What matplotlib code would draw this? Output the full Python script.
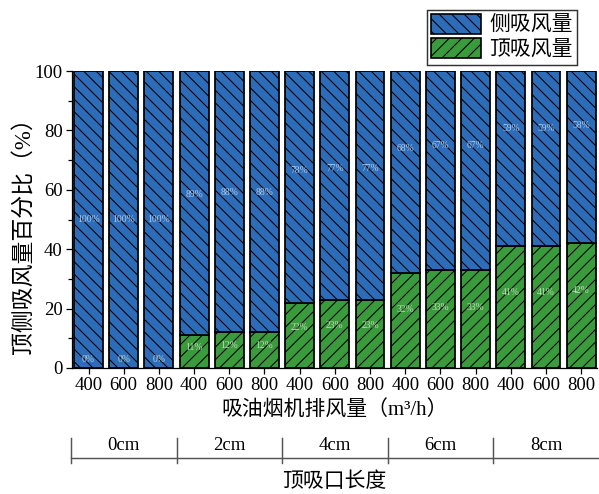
import numpy as np
import matplotlib
matplotlib.use('Agg')
import matplotlib.pyplot as plt
from matplotlib.patches import Patch
import matplotlib.transforms as mtransforms

plt.rcParams['font.family'] = ['Liberation Serif', 'Noto Sans CJK SC']
plt.rcParams['hatch.linewidth'] = 0.5
plt.rcParams['axes.unicode_minus'] = False

# data
flows = ['400', '600', '800'] * 5
groups = ['0cm', '2cm', '4cm', '6cm', '8cm']
top_share = [0, 0, 0, 11, 12, 12, 22, 23, 23, 32, 33, 33, 41, 41, 42]       # 顶吸风量 %
side_share = [100, 100, 100, 89, 88, 88, 78, 77, 77, 68, 67, 67, 59, 59, 58]  # 侧吸风量 %

blue = '#2c6cb9'
green = '#3a9b3c'
hatch_side = '\\' * 4
hatch_top = '/' * 4

fig = plt.figure(figsize=(599 / 150, 494 / 150), dpi=150)
ax = fig.add_axes([72 / 599, 1 - 368 / 494, (597 - 72) / 599, (368 - 71) / 494])

x = np.arange(len(flows))
top = np.array(top_share)
side = np.array(side_share)

ax.bar(x, top, width=0.82, color=green, edgecolor='black', linewidth=0.85, hatch=hatch_top)
ax.bar(x, side, width=0.82, bottom=top, color=blue, edgecolor='black', linewidth=0.85,
       hatch=hatch_side)

# value labels inside the bars
for i in range(len(x)):
    ax.text(x[i], 50 + 0.75 * top[i], f'{side[i]}%', ha='center', va='center',
            fontsize=4.6, color='#d5e2f2', alpha=0.8)
    ax.text(x[i], max(3, 0.62 * top[i]), f'{top[i]}%', ha='center', va='center',
            fontsize=4.6, color='#e0ecd8', alpha=0.8)

ax.set_xlim(-0.47, 14.45)
ax.set_ylim(0, 100)
ax.set_yticks(np.arange(0, 101, 20))
ax.set_yticks(np.arange(0, 101, 10), minor=True)
ax.set_xticks(x)
ax.set_xticklabels(flows)
ax.tick_params(axis='both', direction='out', labelsize=9, length=3, width=0.6, pad=1.5)
ax.tick_params(axis='y', which='minor', length=2, width=0.6)
ax.spines['top'].set_visible(False)
ax.spines['right'].set_visible(False)
ax.spines['left'].set_linewidth(0.6)
ax.spines['bottom'].set_linewidth(0.6)

ax.set_ylabel('顶侧吸风量百分比（%）', fontsize=11)
ax.yaxis.set_label_coords(-0.07, 0.465)
ax.set_xlabel('吸油烟机排风量（m³/h）', fontsize=10, labelpad=3)

# group axis below
trans = mtransforms.blended_transform_factory(ax.transData, fig.transFigure)
line_y = 1 - 458 / 494
ax.plot([-0.5, 14.6], [line_y, line_y], color='#555555', lw=0.7, transform=trans, clip_on=False)
for b in [-0.5, 2.5, 5.5, 8.5, 11.5]:
    ax.plot([b, b], [1 - 438 / 494, 1 - 463 / 494], color='#555555', lw=0.7,
            transform=trans, clip_on=False)
for k, g in enumerate(groups):
    ax.text(3 * k + 1, 1 - 445 / 494, g, ha='center', va='center', fontsize=9, transform=trans)
fig.text(ax.get_position().x0 + ax.get_position().width / 2, 1 - 482 / 494, '顶吸口长度',
         ha='center', va='center', fontsize=10)

handles = [Patch(facecolor=blue, edgecolor='black', hatch=hatch_side, linewidth=0.8),
           Patch(facecolor=green, edgecolor='black', hatch=hatch_top, linewidth=0.8)]
leg = fig.legend(handles, ['侧吸风量', '顶吸风量'], loc='upper right',
                 bbox_to_anchor=(577 / 599, 1 - 10 / 494), fontsize=10, frameon=True,
                 fancybox=False, edgecolor='black', handlelength=2.4, handleheight=1.1,
                 borderpad=0.2, labelspacing=0.1, handletextpad=0.4, borderaxespad=0)
leg.get_frame().set_linewidth(0.7)

fig.savefig('out.png', dpi=150)
